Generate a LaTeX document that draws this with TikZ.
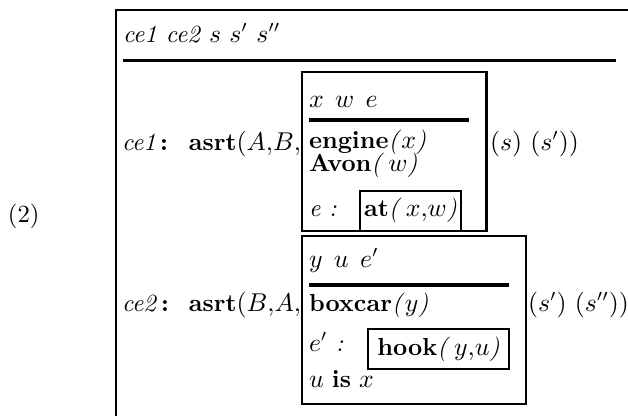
\documentclass[tikz,border=0pt]{standalone}
\begin{document}
\begin{tikzpicture}[x=0.4255pt,y=-0.4255pt,
  txt/.style={anchor=base west,inner sep=0pt,outer sep=0pt,font=\fontsize{10.5}{12.6}\selectfont},
  frame/.style={line width=1.1pt},
  rule/.style={line width=1.3pt}]
\useasboundingbox (0,0) rectangle (628,416);
% outer frame (open at right and bottom)
\draw[frame] (628,10) -- (116,10) -- (116,416);
\draw[rule] (123,60.5) -- (616,60.5);
\node[txt] (hdr) at (123,42) {\textit{ce1 ce2} $s$ $s'$ $s''$};
\node[txt] (num) at (8,222) {(2)};
% row ce1
\node[txt] (ce1) at (122,150) {\textit{ce1}\,\textbf{:}};
\node[txt,anchor=base east] (asrt1) at (301,150) {\textbf{asrt}$(A{,}B{,}$};
\draw[frame] (302,72) rectangle (486.5,231);
\node[txt] (h1) at (309,107) {$x\;\,w\;\,e$};
\draw[rule] (309,120) -- (469,120);
\node[txt] (eng) at (309,148) {\textbf{engine}\textit{(}$x$\textit{)}};
\node[txt] (avon) at (309,171) {\textbf{Avon}\textit{(}\,$w$\textit{)}};
\node[txt] (e1) at (309,216) {\textit{e :}};
\draw[frame] (360,191) rectangle (461,231);
\node[txt,anchor=base] (at) at (410.5,216) {\textbf{at}\textit{(}\,$x{,}w$\textit{)}};
\node[txt] (s1) at (490,150) {$(s)$ $(s')\mathrm{)}$};
% row ce2
\node[txt] (ce2) at (122,311) {\textit{ce2}\,\textbf{:}};
\node[txt,anchor=base east] (asrt2) at (301,311) {\textbf{asrt}$(B{,}A{,}$};
\draw[frame] (302,236) rectangle (526,404);
\node[txt] (h2) at (309,267) {$y\;\,u\;\,e'$};
\draw[rule] (309,285) -- (509,285);
\node[txt] (box) at (309,311) {\textbf{boxcar}\textit{(}$y$\textit{)}};
\node[txt] (e2) at (309,351) {$e'$ \textit{:}};
\draw[frame] (368,329) rectangle (509,369);
\node[txt,anchor=base] (hook) at (438.5,355) {\textbf{hook}\textit{(}\,$y{,}u$\textit{)}};
\node[txt] (uis) at (309,387) {$u$ \textbf{is} $x$};
\node[txt] (s2) at (528,311) {$(s')$ $(s'')\mathrm{)}$};
\end{tikzpicture}
\end{document}
